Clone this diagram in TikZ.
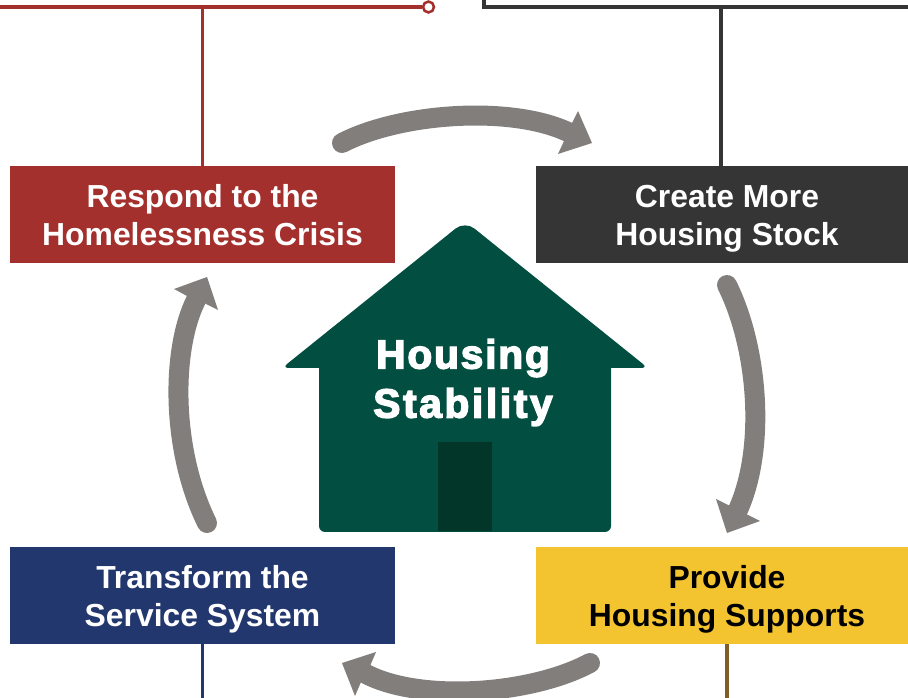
\documentclass[tikz,border=0pt]{standalone}
\usepackage{fontspec}
\setmainfont{Liberation Sans}
\newfontfamily\housefont[FakeBold=3.6,LetterSpace=4.5]{Liberation Sans Bold}
\newfontfamily\stabfont[FakeBold=3.6,LetterSpace=6.5]{Liberation Sans Bold}
\definecolor{cred}{HTML}{A3302D}
\definecolor{cdark}{HTML}{353535}
\definecolor{cnavy}{HTML}{23376F}
\definecolor{cyell}{HTML}{F4C430}
\definecolor{cbrown}{HTML}{7F5F28}
\definecolor{chouse}{HTML}{024E40}
\definecolor{cdoor}{HTML}{013629}
\definecolor{carrow}{HTML}{827E7C}
\newcommand{\topst}{\rule{0pt}{24.7pt}}
\newcommand{\botst}{\rule[-6pt]{0pt}{6pt}}
\tikzset{
  stepbox/.style={rectangle,minimum height=72.75pt,inner sep=0pt,align=center,
    font=\fontsize{23.9pt}{28.5pt}\selectfont\bfseries},
  leftbox/.style={stepbox,minimum width=288.75pt},
  rightbox/.style={stepbox,minimum width=286.5pt},
  shaft/.style={draw=carrow,line width=15pt,line cap=round},
  head/.style={fill=carrow,draw=none},
  link/.style={line width=2.3pt}
}
\begin{document}
\begin{tikzpicture}[x=0.75pt,y=-0.75pt]
\useasboundingbox (0,0) rectangle (908,698);
\clip (0,0) rectangle (908,698);
% boxes
\node[leftbox,fill=cred,text=white] (respond) at (202.5,214.5) {\topst Respond to the\\Homelessness Crisis\botst};
\node[rightbox,fill=cdark,text=white] (create) at (727,214.5) {\topst Create More\\Housing Stock\botst};
\node[leftbox,fill=cnavy,text=white] (transform) at (202.5,595.5) {\topst Transform the\\Service System\botst};
\node[rightbox,fill=cyell,text=black] (provide) at (727,595.5) {\topst Provide\\Housing Supports\botst};
% connectors
\coordinate (rtop) at (202.5,7);
\coordinate (dtop) at (721,7);
\coordinate (dleft) at (484,-4);
\coordinate (dcorner) at (484,7);
\coordinate (dright) at (912,7);
\coordinate (rleft) at (-4,7);
\coordinate (nbot) at (202.5,702);
\coordinate (bbot) at (727,702);
\node[circle,draw=cred,fill=white,line width=1.9pt,minimum size=8.2pt,inner sep=0pt] (rdot) at (428.5,7) {};
\draw[link,cred] (respond.north) -- (rtop);
\draw[link,cred] (rleft) -- (rdot.west);
\draw[link,cdark] (create.north -| dtop) -- (dtop);
\draw[link,cdark] (dleft) -- (dcorner) -- (dright);
\draw[link,cnavy] (transform.south) -- (nbot);
\draw[link,cbrown] (provide.south) -- (bbot);
% cycle arrows
\draw[shaft] (342,143) .. controls (400,113) and (510,105) .. (568,132);
\fill[head] (592,143) -- (578,111) -- (571,125) -- (568,132) -- (564,141) -- (558,154) -- cycle;
\draw[shaft] (727,285) .. controls (757,345) and (767,445) .. (738,510);
\fill[head] (727,533) -- (716,499) -- (730,506) -- (738,510) -- (746,514) -- (760,521) -- cycle;
\draw[shaft] (590,663) .. controls (530,695) and (420,702) .. (366,674);
\fill[head] (342,663) -- (376,652) -- (370,666) -- (366,674) -- (361,682) -- (355,696) -- cycle;
\draw[shaft] (207,523) .. controls (171,450) and (171,350) .. (196,300);
\fill[head] (207,277) -- (174,289) -- (187,296) -- (196,300) -- (204,303) -- (218,310) -- cycle;
% house
\fill[chouse] (373.5,294.5) [rounded corners=9pt] -- (465,221) [rounded corners=5pt] -- (648,368) [rounded corners=0pt] -- (611,368) [rounded corners=4.5pt] -- (611,532) -- (319,532) [rounded corners=0pt] -- (319,368) [rounded corners=5pt] -- (282,368) [rounded corners=0pt] -- cycle;
\fill[cdoor] (438,442) rectangle (492,531.5);
\node[text=white,inner sep=0pt,align=center,font=\fontsize{30.5pt}{36.8pt}\selectfont] (stability) at (463,382.5) {\housefont Housing\\\stabfont Stability};
\end{tikzpicture}
\end{document}
